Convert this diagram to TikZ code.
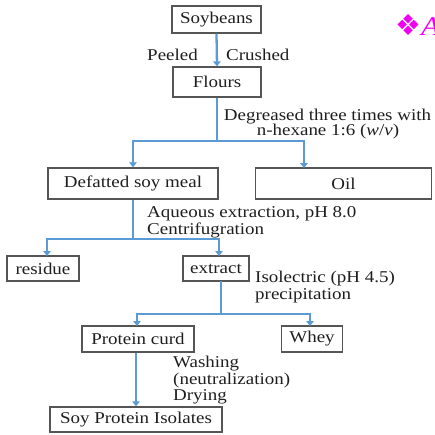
\documentclass[tikz,border=0pt]{standalone}
\usepackage{fontspec}
\setmainfont{Liberation Serif}[FakeStretch=1.15]
\newfontfamily\symfont{DejaVu Sans}
\usetikzlibrary{arrows.meta}
\definecolor{flowblue}{RGB}{91,155,213}
\definecolor{boxgray}{RGB}{85,85,85}
\definecolor{txtgray}{RGB}{30,30,30}
\definecolor{pinkmag}{RGB}{240,0,240}
\begin{document}
\begin{tikzpicture}[x=1pt,y=-1pt,
  every node/.style={text=txtgray, font=\fontsize{16.5}{18}\selectfont},
  box/.style={draw=boxgray, line width=1.3pt, inner sep=0pt},
  flow/.style={draw=flowblue, line width=2.3pt},
  flowarrow/.style={flow, -{Triangle[length=5pt,width=7.5pt]}},
  lbl/.style={inner sep=0pt}]
\useasboundingbox (0,0) rectangle (435,434);
% boxes
\node[box, minimum width=89pt, minimum height=27pt] (soy) at (216.5,19.5) {Soybeans};
\node[box, minimum width=88pt, minimum height=30pt] (flours) at (217,82) {Flours};
\node[box, minimum width=170pt, minimum height=31pt] (defat) at (133,183.5) {Defatted soy meal};
\node[box, minimum width=176pt, minimum height=31pt] (oil) at (343.5,183.5) {Oil};
\node[box, minimum width=72pt, minimum height=25pt] (residue) at (43,268.5) {residue};
\node[box, minimum width=66pt, minimum height=25pt] (extract) at (216,268.5) {extract};
\node[box, minimum width=112pt, minimum height=26pt] (curd) at (138,339) {Protein curd};
\node[box, minimum width=61pt, minimum height=26pt] (whey) at (312,339) {Whey};
\node[box, minimum width=172pt, minimum height=25pt] (spi) at (136,419.5) {Soy Protein Isolates};
% junctions
\coordinate (j1) at (217,141);
\coordinate (oilin) at (304,168);
\coordinate (j2) at (133,239);
\coordinate (resin) at (47,256);
\coordinate (extin) at (219,256);
\coordinate (extout) at (221,281);
\coordinate (j3) at (221,314);
\coordinate (curdin) at (137,326);
\coordinate (wheyin) at (310,326);
% connectors
\draw[flowarrow] (soy.south) -- (flours.north);
\draw[flow] (flours.south) -- (j1);
\draw[flowarrow] (j1) -| (defat.north);
\draw[flowarrow] (j1) -| (oilin);
\draw[flow] (defat.south) -- (j2);
\draw[flowarrow] (j2) -| (resin);
\draw[flowarrow] (j2) -| (extin);
\draw[flow] (extout) -- (j3);
\draw[flowarrow] (j3) -| (curdin);
\draw[flowarrow] (j3) -| (wheyin);
\draw[flowarrow] (curd.south -| spi.north) -- (spi.north);
% labels
\node[lbl, anchor=base east] (peeled) at (198,60) {Peeled};
\node[lbl, anchor=base west] (crushed) at (226,60) {Crushed};
\node[lbl, anchor=base] (deg1) at (327.5,120.5) {Degreased three times with};
\node[lbl, anchor=base] (deg2) at (328,135.5) {n-hexane 1:6 (\textit{w}/\textit{v})};
\node[lbl, anchor=base west] (aq1) at (147,217) {Aqueous extraction, pH 8.0};
\node[lbl, anchor=base west] (aq2) at (147,234) {Centrifugration};
\node[lbl, anchor=base west] (iso1) at (255,282) {Isolectric (pH 4.5)};
\node[lbl, anchor=base west] (iso2) at (255,299) {precipitation};
\node[lbl, anchor=base west] (wash1) at (173,367) {Washing};
\node[lbl, anchor=base west] (wash2) at (173,384) {(neutralization)};
\node[lbl, anchor=base west] (wash3) at (173,400) {Drying};
% cut-off heading fragment
\node[lbl, text=pinkmag, font=\symfont\fontsize{29}{31}\selectfont] (bullet) at (408.5,25) {❖};
\node[lbl, anchor=base west, text=pinkmag, font=\fontsize{27}{30}\selectfont\itshape] (headA) at (421,35) {A};
\end{tikzpicture}
\end{document}
